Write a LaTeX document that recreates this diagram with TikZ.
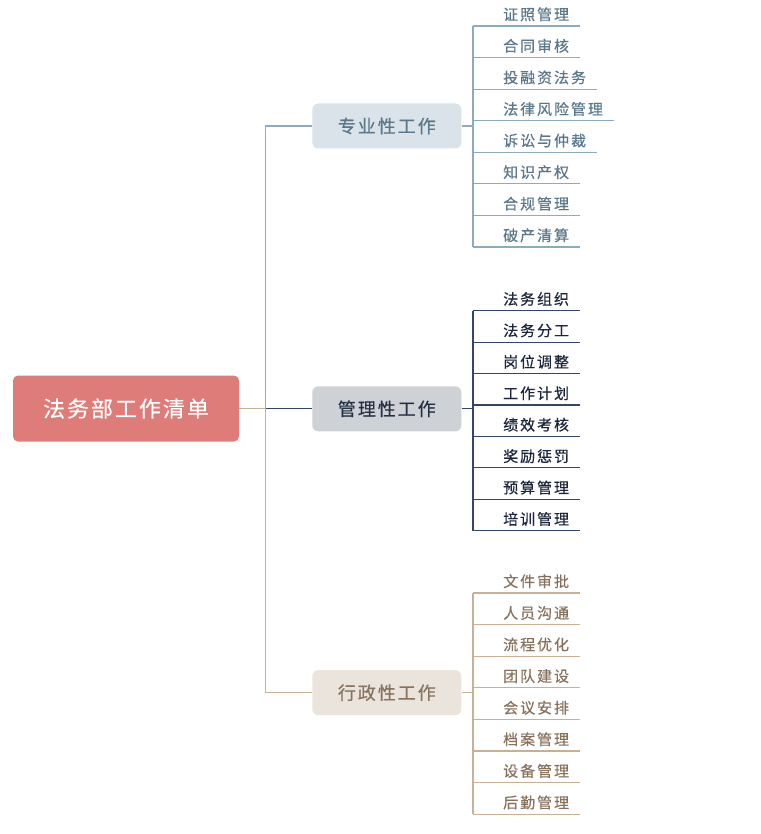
\documentclass[tikz,border=0pt]{standalone}
\usepackage{fontspec}
\setmainfont{Noto Sans CJK SC}
\newfontfamily\rootfont[LetterSpace=9,FakeBold=0.3]{Noto Sans CJK SC}
\newfontfamily\branchfont[LetterSpace=11,FakeBold=0.4]{Noto Sans CJK SC}
\newfontfamily\leaffont[LetterSpace=13,FakeBold=0.5]{Noto Sans CJK SC}
\definecolor{rootred}{HTML}{DD7C78}
\definecolor{fillA}{HTML}{D9E3E9}
\definecolor{textA}{HTML}{5A788A}
\definecolor{lineA}{HTML}{8CABBE}
\definecolor{fillB}{HTML}{CED1D6}
\definecolor{textB}{HTML}{263044}
\definecolor{lineB}{HTML}{34456A}
\definecolor{fillC}{HTML}{EAE4DC}
\definecolor{textC}{HTML}{87735E}
\definecolor{lineC}{HTML}{C6B196}
\definecolor{leafA}{HTML}{5A788A}
\definecolor{leafB}{HTML}{1C263C}
\definecolor{leafC}{HTML}{87715A}
\begin{document}
\begin{tikzpicture}[x=1pt,y=-1pt,
  rootbox/.style={fill=rootred, rounded corners=5pt, minimum width=226pt, minimum height=66pt, inner sep=0pt, text=white, font=\rootfont\fontsize{22}{22}\selectfont},
  branchbox/.style={rounded corners=6pt, minimum width=149pt, minimum height=45pt, inner sep=0pt, font=\branchfont\fontsize{18}{18}\selectfont},
  leaf/.style={inner sep=0pt, anchor=base west, font=\leaffont\fontsize{15}{15}\selectfont},
  conn/.style={line width=1.2pt}
]
\useasboundingbox (0,0) rectangle (760,834);

\node[rootbox] (root) at (126,408.5) {法务部工作清单};
\node[branchbox, fill=fillA, text=textA] (b1) at (386.8,126) {专业性工作};
\node[branchbox, fill=fillB, text=textB] (b2) at (386.8,408.8) {管理性工作};
\node[branchbox, fill=fillC, text=textC] (b3) at (386.8,692.7) {行政性工作};

\coordinate (hub) at ([xshift=26pt]root.east);
\draw[conn, lineA] (root.east) -- (hub) |- (b1.west);
\draw[conn, lineB] (root.east) -- (hub) |- (b2.west);
\draw[conn, lineC] (root.east) -- (hub) |- (b3.west);

% group A
\foreach \t [count=\i] in {证照管理,合同审核,投融资法务,法律风险管理,诉讼与仲裁,知识产权,合规管理,破产清算} {
  \pgfmathsetmacro\yy{26+(\i-1)*31.57}
  \coordinate (a1-\i) at (473,\yy);
  \node[leaf, text=leafA] (l1-\i) at (503,\yy-6) {\t};
  \draw[conn, lineA] (a1-\i) -- ([xshift=11pt]a1-\i -| l1-\i.east);
}
\draw[conn, lineA] (b1.east) -- (b1.east -| a1-1);
\draw[conn, lineA] (a1-1) -- (a1-8);

% group B
\foreach \t [count=\i] in {法务组织,法务分工,岗位调整,工作计划,绩效考核,奖励惩罚,预算管理,培训管理} {
  \pgfmathsetmacro\yy{310.7+(\i-1)*31.43}
  \coordinate (a2-\i) at (473,\yy);
  \node[leaf, text=leafB] (l2-\i) at (503,\yy-6) {\t};
  \draw[conn, lineB] (a2-\i) -- ([xshift=11pt]a2-\i -| l2-\i.east);
}
\draw[conn, lineB] (b2.east) -- (b2.east -| a2-1);
\draw[conn, lineB] (a2-1) -- (a2-8);

% group C
\foreach \t [count=\i] in {文件审批,人员沟通,流程优化,团队建设,会议安排,档案管理,设备管理,后勤管理} {
  \pgfmathsetmacro\yy{593+(\i-1)*31.6}
  \coordinate (a3-\i) at (473,\yy);
  \node[leaf, text=leafC] (l3-\i) at (503,\yy-6) {\t};
  \draw[conn, lineC] (a3-\i) -- ([xshift=11pt]a3-\i -| l3-\i.east);
}
\draw[conn, lineC] (b3.east) -- (b3.east -| a3-1);
\draw[conn, lineC] (a3-1) -- (a3-8);
\end{tikzpicture}
\end{document}
